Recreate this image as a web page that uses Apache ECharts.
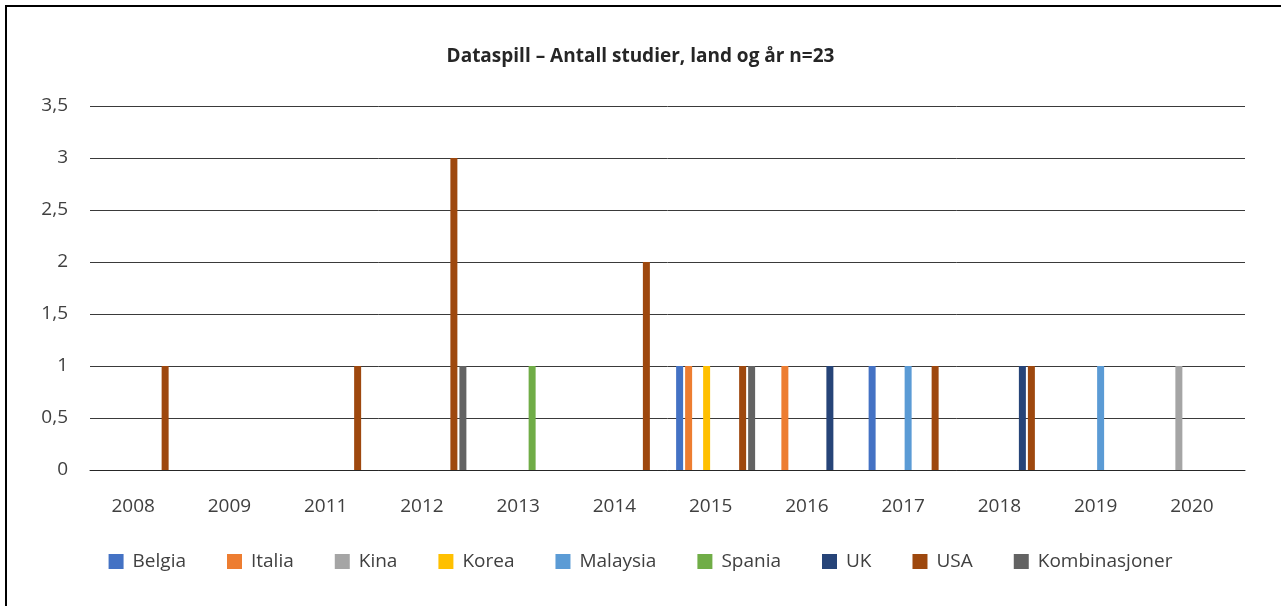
<!DOCTYPE html>
<html>
<head>
<meta charset="utf-8">
<script src="https://cdn.jsdelivr.net/npm/echarts@6/dist/echarts.min.js"></script>
<style>
  html, body { margin: 0; padding: 0; background: #fff; }
  #chart { width: 1281px; height: 606px; }
</style>
</head>
<body>
<div id="chart"></div>
<script>
const years = ['2008', '2009', '2011', '2012', '2013', '2014', '2015', '2016', '2017', '2018', '2019', '2020'];
const yTicks = [0, 0.5, 1, 1.5, 2, 2.5, 3, 3.5];

const belgia = [0, 0, 0, 0, 0, 0, 1, 0, 1, 0, 0, 0];
const italia = [0, 0, 0, 0, 0, 0, 1, 1, 0, 0, 0, 0];
const kina = [0, 0, 0, 0, 0, 0, 0, 0, 0, 0, 0, 1];
const korea = [0, 0, 0, 0, 0, 0, 1, 0, 0, 0, 0, 0];
const malaysia = [0, 0, 0, 0, 0, 0, 0, 0, 1, 0, 1, 0];
const spania = [0, 0, 0, 0, 1, 0, 0, 0, 0, 0, 0, 0];
const uk = [0, 0, 0, 0, 0, 0, 0, 1, 0, 1, 0, 0];
const usa = [1, 0, 1, 3, 0, 2, 1, 0, 1, 1, 0, 0];
const kombinasjoner = [0, 0, 0, 1, 0, 0, 1, 0, 0, 0, 0, 0];

const seriesList = [
  { name: 'Belgia', data: belgia, color: '#4472C4' },
  { name: 'Italia', data: italia, color: '#ED7D31' },
  { name: 'Kina', data: kina, color: '#A5A5A5' },
  { name: 'Korea', data: korea, color: '#FFC000' },
  { name: 'Malaysia', data: malaysia, color: '#5B9BD5' },
  { name: 'Spania', data: spania, color: '#70AD47' },
  { name: 'UK', data: uk, color: '#264478' },
  { name: 'USA', data: usa, color: '#9E480E' },
  { name: 'Kombinasjoner', data: kombinasjoner, color: '#636363' },
];

const FONT = '"Open Sans", "Noto Sans", sans-serif';
const myChart = echarts.init(document.getElementById('chart'), null, { renderer: 'canvas' });

const option = {
  animation: false,
  backgroundColor: '#fff',
  textStyle: { fontFamily: FONT },
  graphic: [
    {
      type: 'rect',
      silent: true,
      shape: { x: 6, y: 6, width: 1320, height: 640 },
      style: { fill: 'none', stroke: '#000', lineWidth: 2 },
    },
  ],
  title: {
    text: 'Dataspill – Antall studier, land og år n=23',
    left: 'center',
    top: 42,
    textStyle: { fontFamily: FONT, fontWeight: 'bold', fontSize: 19, color: '#262626' },
  },
  legend: {
    data: seriesList.map((s) => s.name),
    left: 'center',
    top: 547,
    icon: 'rect',
    itemWidth: 15,
    itemHeight: 15,
    itemGap: 41,
    textStyle: { fontFamily: FONT, fontSize: 19, color: '#404040', padding: [0, 0, 0, 4] },
  },
  grid: { left: 90, right: 36, top: 106, bottom: 136 },
  xAxis: {
    type: 'category',
    data: years,
    axisTick: { show: false },
    axisLine: { lineStyle: { color: '#262626', width: 1 } },
    axisLabel: {
      fontFamily: FONT,
      fontSize: 19,
      color: '#404040',
      margin: 27,
      padding: [0, 10, 0, 0],
    },
  },
  yAxis: {
    type: 'value',
    min: yTicks[0],
    max: yTicks[yTicks.length - 1],
    interval: 0.5,
    axisLine: { show: false },
    axisTick: { show: false },
    splitLine: { lineStyle: { color: '#3a3a3a', width: 1 } },
    axisLabel: {
      fontFamily: FONT,
      fontSize: 19,
      color: '#404040',
      margin: 22,
      formatter: (v) => String(v).replace('.', ','),
    },
  },
  series: seriesList.map((s) => ({
    name: s.name,
    type: 'bar',
    data: s.data,
    barWidth: 7,
    barGap: '28.6%',
    itemStyle: { color: s.color },
  })),
};

myChart.setOption(option);
window.addEventListener('resize', () => myChart.resize());
</script>
</body>
</html>
